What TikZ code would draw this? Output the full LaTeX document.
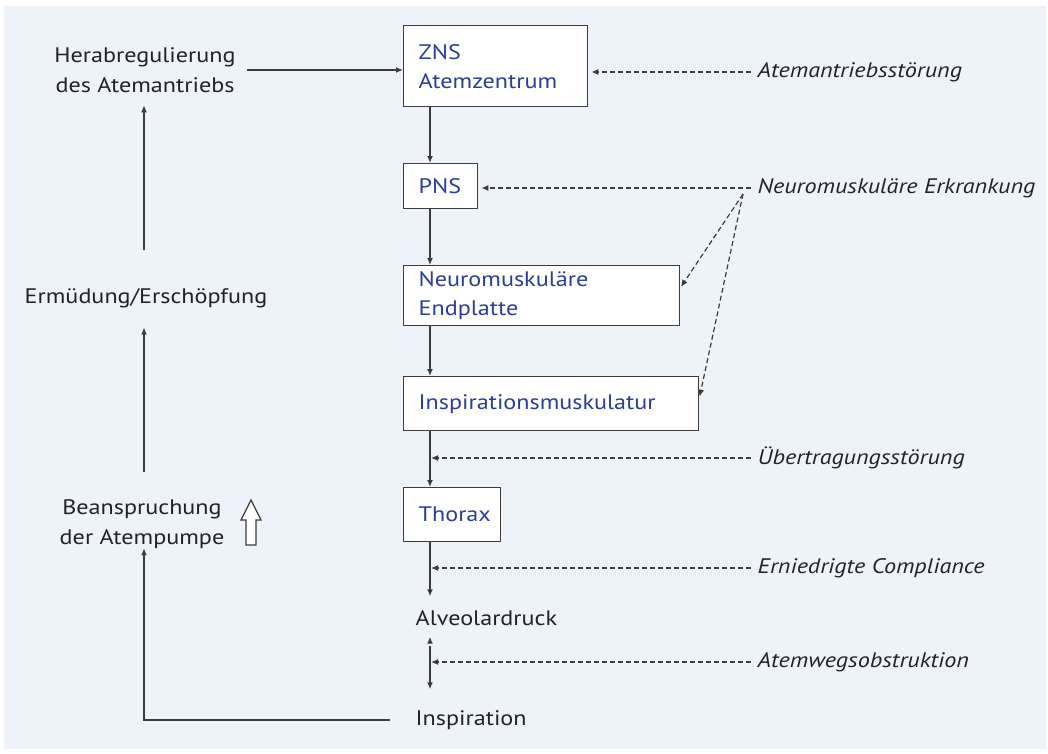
\documentclass[tikz,border=0pt]{standalone}
\usepackage{fontspec}
\setmainfont{PT Sans}[FakeStretch=1.15]
\usetikzlibrary{arrows.meta}
\usetikzlibrary{calc}
\definecolor{panel}{RGB}{238,242,249}
\definecolor{nsblue}{RGB}{42,62,150}
\definecolor{lineg}{RGB}{60,60,60}
\definecolor{inkg}{RGB}{35,35,35}

\begin{document}
\begin{tikzpicture}[x=1pt,y=-1pt,>={Latex[length=7pt,width=6pt]},line width=1.4pt,
    box/.style={draw=lineg,fill=white,text=nsblue,anchor=north west,align=left,
      inner xsep=15pt,font=\fontsize{21}{29}\selectfont},
    lbl/.style={text=inkg,align=center,inner sep=6pt,font=\fontsize{21}{30}\selectfont},
    term/.style={lbl,anchor=west,text height=15pt,text depth=5pt},
    cause/.style={text=inkg,anchor=west,inner sep=6pt,font=\fontsize{21}{29}\selectfont\itshape},
    flow/.style={->,draw=lineg},
    hint/.style={->,draw=lineg,line width=1.2pt,dash pattern=on 5pt off 3pt}]
  \useasboundingbox (0,0) rectangle (1048,753);
  \fill[panel] (4,6) rectangle (1046,749);
  \coordinate (spine) at (430,0);
  \coordinate (lspine) at (144,0);
  % central chain
  \node[box,minimum width=184pt,minimum height=81pt,text width=154pt] (ZNS) at (403,25) {ZNS\\Atemzentrum};
  \node[box,minimum width=74pt,minimum height=45pt,text width=44pt] (PNS) at (403,163) {PNS};
  \node[box,minimum width=276pt,minimum height=60pt,text width=246pt] (End) at (403,265) {Neuromuskuläre\\Endplatte};
  \node[box,minimum width=295pt,minimum height=54pt,text width=265pt] (Insp) at (403,376) {Inspirationsmuskulatur};
  \node[box,minimum width=97pt,minimum height=54pt,text width=67pt] (Thorax) at (403,487) {Thorax};
  \node[term] (Alv) at (409,620) {Alveolardruck};
  \node[term] (Inspir) at (409,720) {Inspiration};
  \path[flow]
    (ZNS.south -| spine) edge (PNS.north -| spine)
    (PNS.south -| spine) edge (End.north -| spine)
    (End.south -| spine) edge (Insp.north -| spine)
    (Insp.south -| spine) edge (Thorax.north -| spine)
    (Thorax.south -| spine) edge [shorten >=7pt] (Alv.north -| spine)
    (Alv.south -| spine) edge [shorten <=9pt,shorten >=14pt] (Inspir.north -| spine);
  % disturbances
  \node[cause] (AS) at (751,72) {Atemantriebsstörung};
  \node[cause] (NE) at (751,188) {Neuromuskuläre Erkrankung};
  \node[cause] (UE) at (751,458) {Übertragungsstörung};
  \node[cause] (EC) at (751,568) {Erniedrigte Compliance};
  \node[cause] (AO) at (751,662) {Atemwegsobstruktion};
  \coordinate (fork) at ($(NE.west)+(-8,6)$);
  \draw[hint,shorten >=3pt] (AS.west) -- (AS.west -| ZNS.east);
  \draw[hint,shorten >=3pt] (NE.west) -- (NE.west -| PNS.east);
  \draw[hint,shorten >=1pt] (fork) -- ([yshift=8pt]End.east);
  \draw[hint,shorten >=1pt] (fork) -- ([yshift=6pt]Insp.east);
  \draw[hint,shorten >=1pt] (UE.west) -- (UE.west -| spine);
  \draw[hint,shorten >=1pt] (EC.west) -- (EC.west -| spine);
  \draw[hint,shorten >=1pt] (AO.west) -- (AO.west -| spine);
  % feedback loop
  \node[lbl] (Herab) at (145,70) {Herabregulierung\\des Atemantriebs};
  \node[lbl] (Erm) at (146,298) {Ermüdung/Erschöpfung};
  \node[lbl] (Bean) at (142,524) {Beanspruchung\\der Atempumpe};
  \draw[flow,shorten <=5pt] (Herab.east) -- (Herab.east -| ZNS.west);
  \draw[flow,shorten <=32pt,shorten >=6pt] (Erm.north -| lspine) -- (Herab.south -| lspine);
  \draw[flow,shorten <=21pt,shorten >=13pt] (Bean.north -| lspine) -- (Erm.south -| lspine);
  \draw[flow,shorten <=19pt,shorten >=-7pt] (Inspir.west) -| (lspine |- Bean.south);
  \draw[lineg,line width=1.2pt,fill=white] (246,545) -- (246,520) -- (241,520) -- (251,500)
    -- (261,520) -- (256,520) -- (256,545) -- cycle;
\end{tikzpicture}
\end{document}
